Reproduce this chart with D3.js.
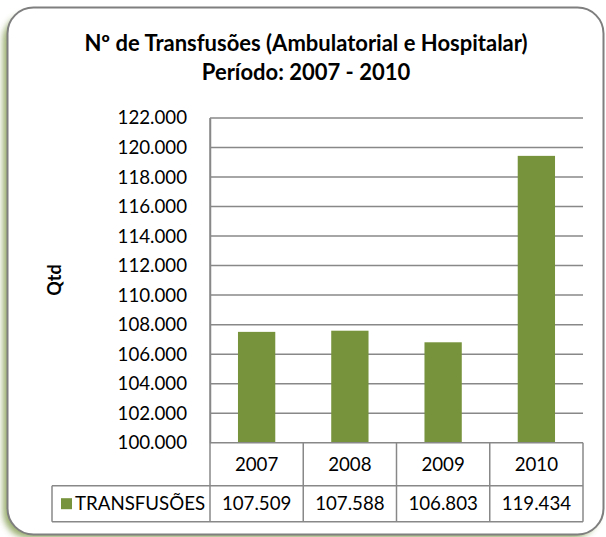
<!DOCTYPE html>
<html>
<head>
<meta charset="utf-8">
<script src="https://cdn.jsdelivr.net/npm/d3@7"></script>
<style>
  html, body { margin: 0; padding: 0; background: #fff; }
  svg { display: block; font-family: Lato, "Open Sans", sans-serif; }
</style>
</head>
<body>
<div id="chart"></div>
<script>
const TITLE_LINES = ["Nº de Transfusões (Ambulatorial e Hospitalar)", "Período: 2007 - 2010"];
const YEARS = ["2007", "2008", "2009", "2010"];
const SERIES_NAME = "TRANSFUSÕES";
const TRANSFUSOES = [107509, 107588, 106803, 119434];
const Y_TICKS = [100000, 102000, 104000, 106000, 108000, 110000, 112000, 114000, 116000, 118000, 120000, 122000];
const Y_LABEL = "Qtd";

const W = 606, H = 537;
const BAR_COLOR = "#77933c";
const GRID = "#888888";
const fmt = d => d3.format(",")(d).replace(/,/g, ".");

const margin = { top: 118, right: 23, bottom: 94.3, left: 210 };
const plotW = W - margin.left - margin.right;
const plotH = H - margin.top - margin.bottom;

const svg = d3.select("#chart").append("svg")
  .attr("width", W)
  .attr("height", H);

// frame with green shadow
const defs = svg.append("defs");
defs.append("filter").attr("id", "blur")
  .attr("x", "-10%").attr("y", "-10%").attr("width", "120%").attr("height", "120%")
  .append("feGaussianBlur").attr("stdDeviation", 3);

svg.append("rect")
  .attr("x", 3).attr("y", 14).attr("width", 595).attr("height", 524)
  .attr("rx", 26)
  .attr("fill", "#77933c")
  .attr("opacity", 0.75)
  .attr("filter", "url(#blur)");

svg.append("rect")
  .attr("x", 7.5).attr("y", 7.5).attr("width", 596).attr("height", 527)
  .attr("rx", 26)
  .attr("fill", "#fff")
  .attr("stroke", "#7f7f7f")
  .attr("stroke-width", 2);

// title
svg.append("text")
  .attr("text-anchor", "middle")
  .attr("font-weight", "bold")
  .attr("font-size", "22px")
  .attr("fill", "#000")
  .selectAll("tspan")
  .data(TITLE_LINES)
  .join("tspan")
  .attr("x", 306)
  .attr("y", (d, i) => 51 + i * 29)
  .text(d => d);

const g = svg.append("g")
  .attr("transform", `translate(${margin.left},${margin.top})`);

const x = d3.scaleBand()
  .domain(YEARS)
  .range([0, plotW])
  .padding(0);

const y = d3.scaleLinear()
  .domain([100000, 122000])
  .range([plotH, 0]);

// gridlines
g.append("g")
  .selectAll("line")
  .data(Y_TICKS.slice(1))
  .join("line")
  .attr("x1", 0)
  .attr("x2", plotW)
  .attr("y1", d => y(d))
  .attr("y2", d => y(d))
  .attr("stroke", GRID)
  .attr("stroke-width", 1.5);

// y axis
const yAxis = g.append("g")
  .call(d3.axisLeft(y).tickValues(Y_TICKS).tickSize(0).tickPadding(23).tickFormat(fmt));
yAxis.select(".domain").attr("stroke", GRID).attr("stroke-width", 1.5);
yAxis.selectAll("text")
  .attr("font-family", "Lato, sans-serif")
  .attr("font-size", "18.7px")
  .attr("fill", "#000");

svg.append("text")
  .attr("transform", "rotate(-90)")
  .attr("x", -280)
  .attr("y", 61)
  .attr("text-anchor", "middle")
  .attr("font-weight", "bold")
  .attr("font-size", "18px")
  .text(Y_LABEL);

// bars
const barW = x.bandwidth() * 0.4;
g.selectAll(".bar")
  .data(YEARS.map((yr, i) => ({ yr, v: TRANSFUSOES[i] })))
  .join("rect")
  .attr("class", "bar")
  .attr("x", d => x(d.yr) + (x.bandwidth() - barW) / 2)
  .attr("width", barW)
  .attr("y", d => y(d.v))
  .attr("height", d => plotH - y(d.v))
  .attr("fill", BAR_COLOR);

// data table
const row1 = plotH, row2 = plotH + 43, row3 = plotH + 79;
const legendLeft = 52 - margin.left;
const tbl = g.append("g")
  .attr("stroke", GRID)
  .attr("stroke-width", 1.5)
  .attr("fill", "none");

tbl.append("line").attr("x1", 0).attr("x2", plotW).attr("y1", row1).attr("y2", row1);
tbl.append("line").attr("x1", legendLeft).attr("x2", plotW).attr("y1", row2).attr("y2", row2);
tbl.append("line").attr("x1", legendLeft).attr("x2", plotW).attr("y1", row3).attr("y2", row3);
tbl.append("line").attr("x1", legendLeft).attr("x2", legendLeft).attr("y1", row2).attr("y2", row3);
tbl.selectAll(".vline")
  .data(YEARS)
  .join("line")
  .attr("x1", d => x(d) + x.bandwidth())
  .attr("x2", d => x(d) + x.bandwidth())
  .attr("y1", row1)
  .attr("y2", row3);
tbl.append("line").attr("x1", 0).attr("x2", 0).attr("y1", 0).attr("y2", row3);

g.selectAll(".year")
  .data(YEARS)
  .join("text")
  .attr("x", d => x(d) + x.bandwidth() / 2)
  .attr("y", (row1 + row2) / 2)
  .attr("dy", "0.35em")
  .attr("text-anchor", "middle")
  .attr("font-size", "18.7px")
  .text(d => d);

g.selectAll(".val")
  .data(YEARS.map((yr, i) => ({ yr, v: TRANSFUSOES[i] })))
  .join("text")
  .attr("x", d => x(d.yr) + x.bandwidth() / 2)
  .attr("y", (row2 + row3) / 2)
  .attr("dy", "0.35em")
  .attr("text-anchor", "middle")
  .attr("font-size", "18.7px")
  .text(d => fmt(d.v));

g.append("rect")
  .attr("x", legendLeft + 9)
  .attr("y", (row2 + row3) / 2 - 5.5)
  .attr("width", 11)
  .attr("height", 11)
  .attr("fill", BAR_COLOR);

g.append("text")
  .attr("x", legendLeft + 23)
  .attr("y", (row2 + row3) / 2)
  .attr("dy", "0.35em")
  .attr("font-size", "18.7px")
  .text(SERIES_NAME);
</script>
</body>
</html>
